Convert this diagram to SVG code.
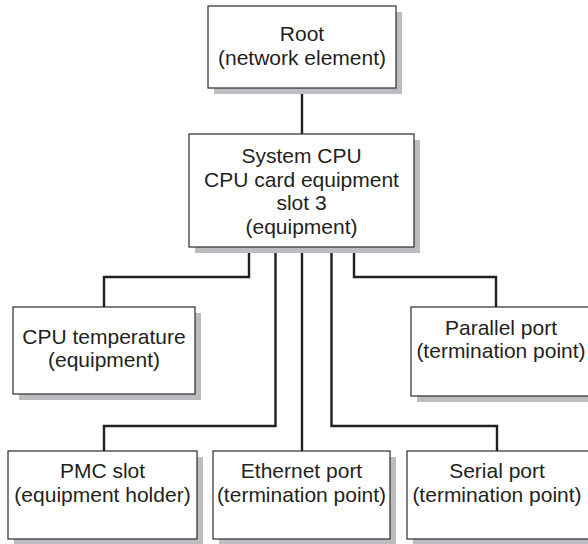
<svg xmlns="http://www.w3.org/2000/svg" width="588" height="544" viewBox="0 0 588 544">
  <defs>
    <style>
      .shadow { fill: #bcbdc0; }
      .box { fill: #ffffff; stroke: #2b2b2b; stroke-width: 1.2; }
      .label { font-family: "Liberation Sans", Arial, sans-serif; font-size: 21px; fill: #231f20; text-anchor: middle; }
      .wire { fill: none; stroke: #231f20; stroke-width: 2.4; stroke-linejoin: miter; }
    </style>
  </defs>
  <rect width="588" height="544" fill="#ffffff"/>

  <!-- tree connectors -->
  <g id="connectors">
    <path class="wire" d="M302 88 V134"/>
    <path class="wire" d="M249 247 V277 H104 V307"/>
    <path class="wire" d="M275.5 247 V426 H104 V451"/>
    <path class="wire" d="M302 247 V451"/>
    <path class="wire" d="M331.5 247 V426 H497 V451"/>
    <path class="wire" d="M354 247 V277 H496 V307"/>
  </g>

  <g id="root">
    <rect class="shadow" x="214" y="12" width="188" height="82"/>
    <rect class="box" x="208" y="6" width="188" height="82"/>
    <text class="label" x="302" y="41">Root</text>
    <text class="label" x="302" y="65">(network element)</text>
  </g>

  <g id="system-cpu">
    <rect class="shadow" x="195" y="140" width="225" height="113"/>
    <rect class="box" x="189" y="134" width="225" height="113"/>
    <text class="label" x="301.5" y="163">System CPU</text>
    <text class="label" x="301.5" y="186.5">CPU card equipment</text>
    <text class="label" x="301.5" y="210">slot 3</text>
    <text class="label" x="301.5" y="233.5">(equipment)</text>
  </g>

  <g id="cpu-temperature">
    <rect class="shadow" x="19" y="313" width="182" height="87"/>
    <rect class="box" x="13" y="307" width="182" height="87"/>
    <text class="label" x="104" y="344">CPU temperature</text>
    <text class="label" x="104" y="367">(equipment)</text>
  </g>

  <g id="parallel-port">
    <rect class="shadow" x="417" y="313" width="186" height="89"/>
    <rect class="box" x="411" y="307" width="186" height="89"/>
    <text class="label" x="501" y="335">Parallel port</text>
    <text class="label" x="501" y="358">(termination point)</text>
  </g>

  <g id="pmc-slot">
    <rect class="shadow" x="14" y="457" width="189" height="88"/>
    <rect class="box" x="8" y="451" width="189" height="88"/>
    <text class="label" x="102.5" y="478">PMC slot</text>
    <text class="label" x="102.5" y="502">(equipment holder)</text>
  </g>

  <g id="ethernet-port">
    <rect class="shadow" x="219" y="457" width="177" height="88"/>
    <rect class="box" x="213" y="451" width="177" height="88"/>
    <text class="label" x="301.5" y="478">Ethernet port</text>
    <text class="label" x="301.5" y="502">(termination point)</text>
  </g>

  <g id="serial-port">
    <rect class="shadow" x="413" y="457" width="186" height="88"/>
    <rect class="box" x="407" y="451" width="186" height="88"/>
    <text class="label" x="497" y="478">Serial port</text>
    <text class="label" x="497" y="502">(termination point)</text>
  </g>
</svg>
